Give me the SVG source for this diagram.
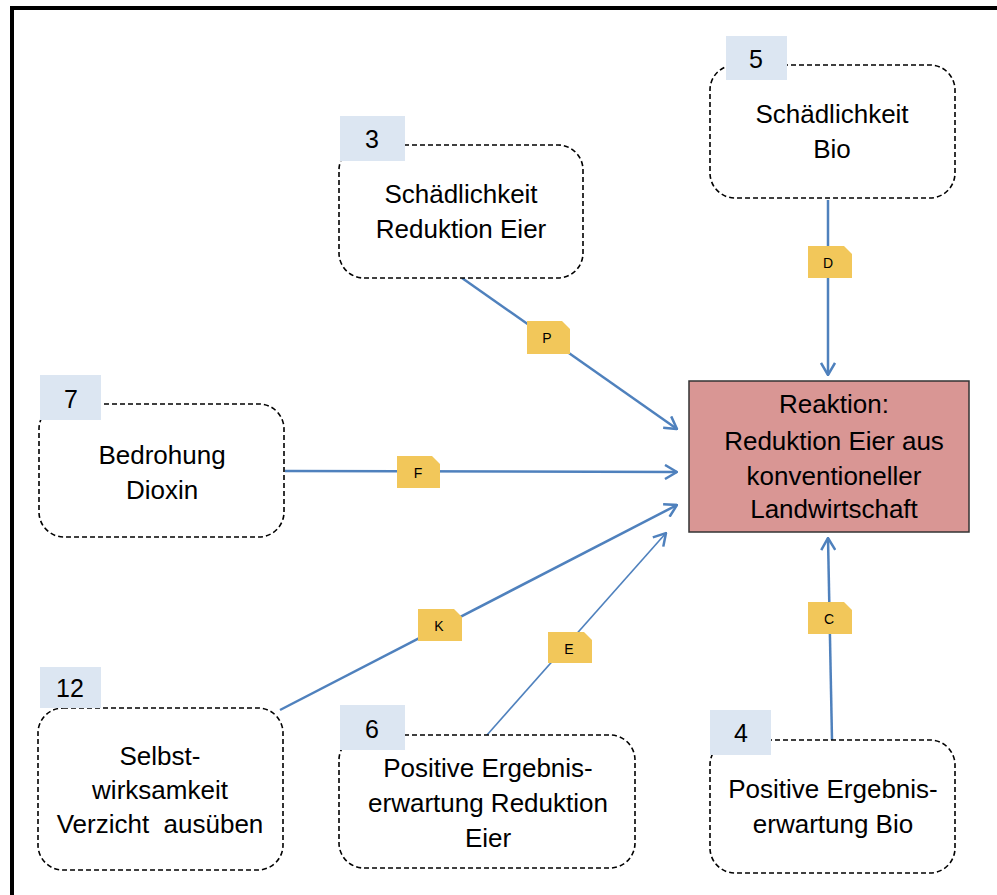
<svg xmlns="http://www.w3.org/2000/svg" width="997" height="895" viewBox="0 0 997 895">
<defs>
<style>
.node{fill:#ffffff;stroke:#000000;stroke-width:1.6;stroke-dasharray:5,3}
.tag{fill:#dce6f2}
.t{font-family:"Liberation Sans",Arial,sans-serif;font-size:26px;fill:#000000;text-anchor:middle}
.num{font-family:"Liberation Sans",Arial,sans-serif;font-size:25px;fill:#000000;text-anchor:middle}
.lab{fill:#f2c75a}
.lt{font-family:"Liberation Sans",Arial,sans-serif;font-size:14px;fill:#000000;text-anchor:middle}
.con{stroke:#4f81bd;stroke-width:2.5;fill:none;marker-end:url(#arr)}
</style>
<marker id="arr" markerUnits="userSpaceOnUse" viewBox="0 0 14 16" refX="13" refY="8" markerWidth="14" markerHeight="16" orient="auto">
<path d="M1,1 L13,8 L1,15" fill="none" stroke="#4f81bd" stroke-width="2.5"/>
</marker>
</defs>
<rect width="997" height="895" fill="#ffffff"/>
<path d="M12,897 V8 H999" fill="none" stroke="#000000" stroke-width="4"/>

<g id="connectors">
<path class="con" d="M462,278 L677,429"/>
<path class="con" d="M285,471 L677,472"/>
<path class="con" d="M280,710 L677,505"/>
<path class="con" d="M487,735 L666,533" style="stroke-width:1.6"/>
<path class="con" d="M828,200 L828,375"/>
<path class="con" d="M832,740 L828,538"/>
</g>

<g id="labels">
<g id="label-P"><path class="lab" d="M527,321 H562 L570,329 V354 H527 Z"/><text class="lt" x="547" y="343">P</text></g>
<g id="label-F"><path class="lab" d="M397,456 H432 L440,464 V488 H397 Z"/><text class="lt" x="418" y="478">F</text></g>
<g id="label-K"><path class="lab" d="M418,609 H454 L462,617 V641 H418 Z"/><text class="lt" x="439" y="631">K</text></g>
<g id="label-E"><path class="lab" d="M548,632 H584 L592,640 V663 H548 Z"/><text class="lt" x="569" y="654">E</text></g>
<g id="label-D"><path class="lab" d="M808,246 H844 L852,254 V278 H808 Z"/><text class="lt" x="828" y="268">D</text></g>
<g id="label-C"><path class="lab" d="M808,602 H844 L852,610 V634 H808 Z"/><text class="lt" x="829" y="624">C</text></g>
</g>

<g id="node-3">
<rect class="node" x="339" y="145" width="244" height="133" rx="25"/>
<rect class="tag" x="340" y="116" width="65" height="45"/>
<text class="num" x="372" y="148">3</text>
<text class="t" x="461" y="203">Schädlichkeit</text>
<text class="t" x="461" y="238">Reduktion Eier</text>
</g>

<g id="node-5">
<rect class="node" x="710" y="65" width="245" height="133" rx="25"/>
<rect class="tag" x="726" y="36" width="61" height="44"/>
<text class="num" x="756" y="68">5</text>
<text class="t" x="832" y="123">Schädlichkeit</text>
<text class="t" x="832" y="158">Bio</text>
</g>

<g id="node-7">
<rect class="node" x="39" y="404" width="245" height="133" rx="25"/>
<rect class="tag" x="40" y="375" width="61" height="45"/>
<text class="num" x="71" y="408">7</text>
<text class="t" x="162" y="464">Bedrohung</text>
<text class="t" x="162" y="499">Dioxin</text>
</g>

<g id="node-12">
<rect class="node" x="38" y="708" width="245" height="162" rx="25"/>
<rect class="tag" x="40" y="667" width="61" height="41"/>
<text class="num" x="70" y="697">12</text>
<text class="t" x="160" y="765">Selbst-</text>
<text class="t" x="160" y="799">wirksamkeit</text>
<text class="t" x="160" y="833" xml:space="preserve">Verzicht  ausüben</text>
</g>

<g id="node-6">
<rect class="node" x="339" y="735" width="296" height="133" rx="25"/>
<rect class="tag" x="340" y="705" width="65" height="45"/>
<text class="num" x="372" y="738">6</text>
<text class="t" x="488" y="777">Positive Ergebnis-</text>
<text class="t" x="488" y="812">erwartung Reduktion</text>
<text class="t" x="488" y="847">Eier</text>
</g>

<g id="node-4">
<rect class="node" x="710" y="740" width="245" height="133" rx="25"/>
<rect class="tag" x="710" y="710" width="61" height="45"/>
<text class="num" x="741" y="742">4</text>
<text class="t" x="833" y="798">Positive Ergebnis-</text>
<text class="t" x="833" y="833">erwartung Bio</text>
</g>

<g id="node-reaktion">
<rect x="689" y="381" width="280" height="151" fill="#d99694" stroke="#333333" stroke-width="1.5"/>
<text class="t" x="834" y="413">Reaktion:</text>
<text class="t" x="834" y="450">Reduktion Eier aus</text>
<text class="t" x="834" y="485">konventioneller</text>
<text class="t" x="834" y="518">Landwirtschaft</text>
</g>
</svg>
